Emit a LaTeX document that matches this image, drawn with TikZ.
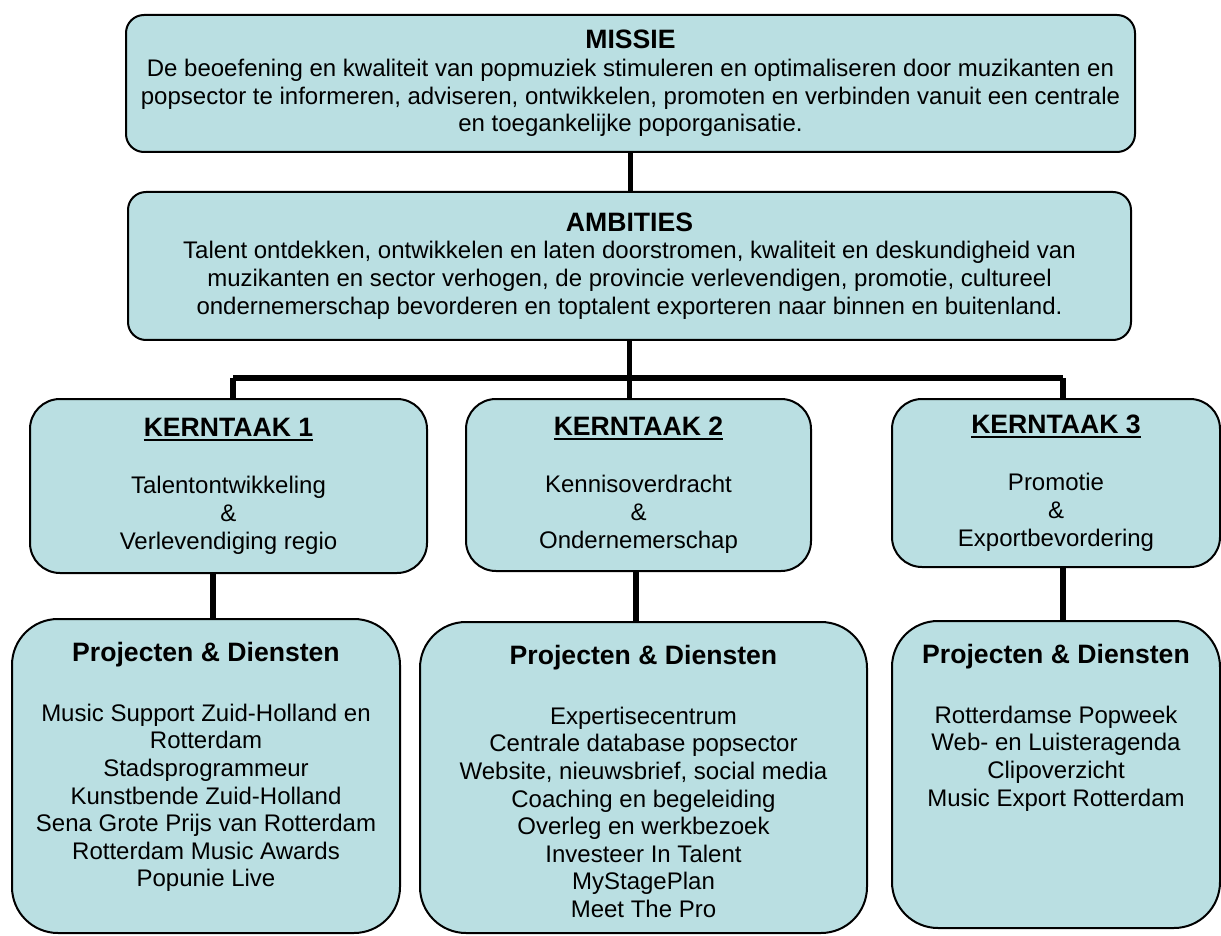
\documentclass[tikz,border=0pt]{standalone}
\usepackage{fontspec}
\setmainfont{Liberation Sans}
\usetikzlibrary{positioning}

\definecolor{kaderblauw}{HTML}{BADFE2}
\newcommand\kop[1]{{\fontsize{13.3}{13.8}\selectfont\bfseries #1}}
\newcommand\streep[1]{\setbox0\hbox{#1}\rlap{\rule[-2.4pt]{\wd0}{1pt}}\box0}

\tikzset{
    kader/.style={draw=black, line width=1pt, fill=kaderblauw, rounded corners=9pt,
        align=center, inner sep=0pt},
    kernkader/.style={kader, rounded corners=15pt},
    projkader/.style={kader, rounded corners=23pt},
    tekst/.style={align=center, inner sep=0pt},
    verbinding/.style={line width=2.75pt},
}

\begin{document}
\begin{tikzpicture}[x=0.5pt, y=-0.5pt, font=\fontsize{12}{13.8}\selectfont]
    \useasboundingbox (0,0) rectangle (1221,936);
    \pgfmathsetmacro\takhoogte{378};

    % missie en ambities
    \node[kader, minimum width=504.5pt, minimum height=68.5pt] (missie) at (630.5,83.5)
        {\kop{MISSIE}\\
         De beoefening en kwaliteit van popmuziek stimuleren en optimaliseren door muzikanten en\\
         popsector te informeren, adviseren, ontwikkelen, promoten en verbinden vanuit een centrale\\
         en toegankelijke poporganisatie.};
    \node[kader, minimum width=501.5pt, minimum height=74pt] (ambities) at (629.5,266)
        {\kop{AMBITIES}\\
         Talent ontdekken, ontwikkelen en laten doorstromen, kwaliteit en deskundigheid van\\
         muzikanten en sector verhogen, de provincie verlevendigen, promotie, cultureel\\
         ondernemerschap bevorderen en toptalent exporteren naar binnen en buitenland.};

    % kerntaken
    \node[kernkader, minimum width=198.5pt, minimum height=87pt] (kern1) at (228.5,486)
        {\streep{\kop{KERNTAAK 1}}\\[15pt] Talentontwikkeling\\ \&\\ Verlevendiging regio};
    \node[kernkader, minimum width=172.5pt, minimum height=86pt] (kern2) at (638.5,485)
        {\streep{\kop{KERNTAAK 2}}\\[15pt] Kennisoverdracht\\ \&\\ Ondernemerschap};
    \node[kernkader, minimum width=164pt, minimum height=84pt] (kern3) at (1056,483)
        {\streep{\kop{KERNTAAK 3}}\\[15pt] Promotie\\ \&\\ Exportbevordering};

    % projecten en diensten
    \node[projkader, minimum width=194pt, minimum height=157pt] (proj1) at (206,776) {};
    \node[projkader, minimum width=223.5pt, minimum height=155.5pt] (proj2) at (643.5,777.5) {};
    \node[projkader, minimum width=164pt, minimum height=153.5pt] (proj3) at (1056,774.5) {};

    \node[tekst, below=12pt of proj1.north] (proj1tekst)
        {\kop{Projecten \& Diensten}\\[16pt]
         Music Support Zuid-Holland en\\ Rotterdam\\ Stadsprogrammeur\\
         Kunstbende Zuid-Holland\\ Sena Grote Prijs van Rotterdam\\
         Rotterdam Music Awards\\ Popunie Live};
    \node[tekst, below=12pt of proj2.north] (proj2tekst)
        {\kop{Projecten \& Diensten}\\[16pt]
         Expertisecentrum\\ Centrale database popsector\\
         Website, nieuwsbrief, social media\hspace*{20pt}\\
         Coaching en begeleiding\\ Overleg en werkbezoek\\
         Investeer In Talent\\ MyStagePlan\\ Meet The Pro};
    \node[tekst, below=12pt of proj3.north] (proj3tekst)
        {\kop{Projecten \& Diensten}\\[16pt]
         Rotterdamse Popweek\\ Web- en Luisteragenda\\
         Clipoverzicht\\ Music Export Rotterdam};

    % verbindingen
    \coordinate (tak1) at (233,\takhoogte);
    \coordinate (tak3) at (1063,\takhoogte);
    \coordinate (as1) at (213,0);
    \coordinate (as2) at (636,0);

    \draw[verbinding] (missie.south) -- (missie.south |- ambities.north);
    \draw[verbinding] (ambities.south) -- (ambities.south |- kern2.north);
    \draw[verbinding] (tak1) -- (tak3);
    \draw[verbinding] (tak1) -- (tak1 |- kern1.north);
    \draw[verbinding] (tak3) -- (tak3 |- kern3.north);

    \draw[verbinding] (as1 |- kern1.south) -- (as1 |- proj1.north);
    \draw[verbinding] (as2 |- kern2.south) -- (as2 |- proj2.north);
    \draw[verbinding] (tak3 |- kern3.south) -- (tak3 |- proj3.north);
\end{tikzpicture}
\end{document}
